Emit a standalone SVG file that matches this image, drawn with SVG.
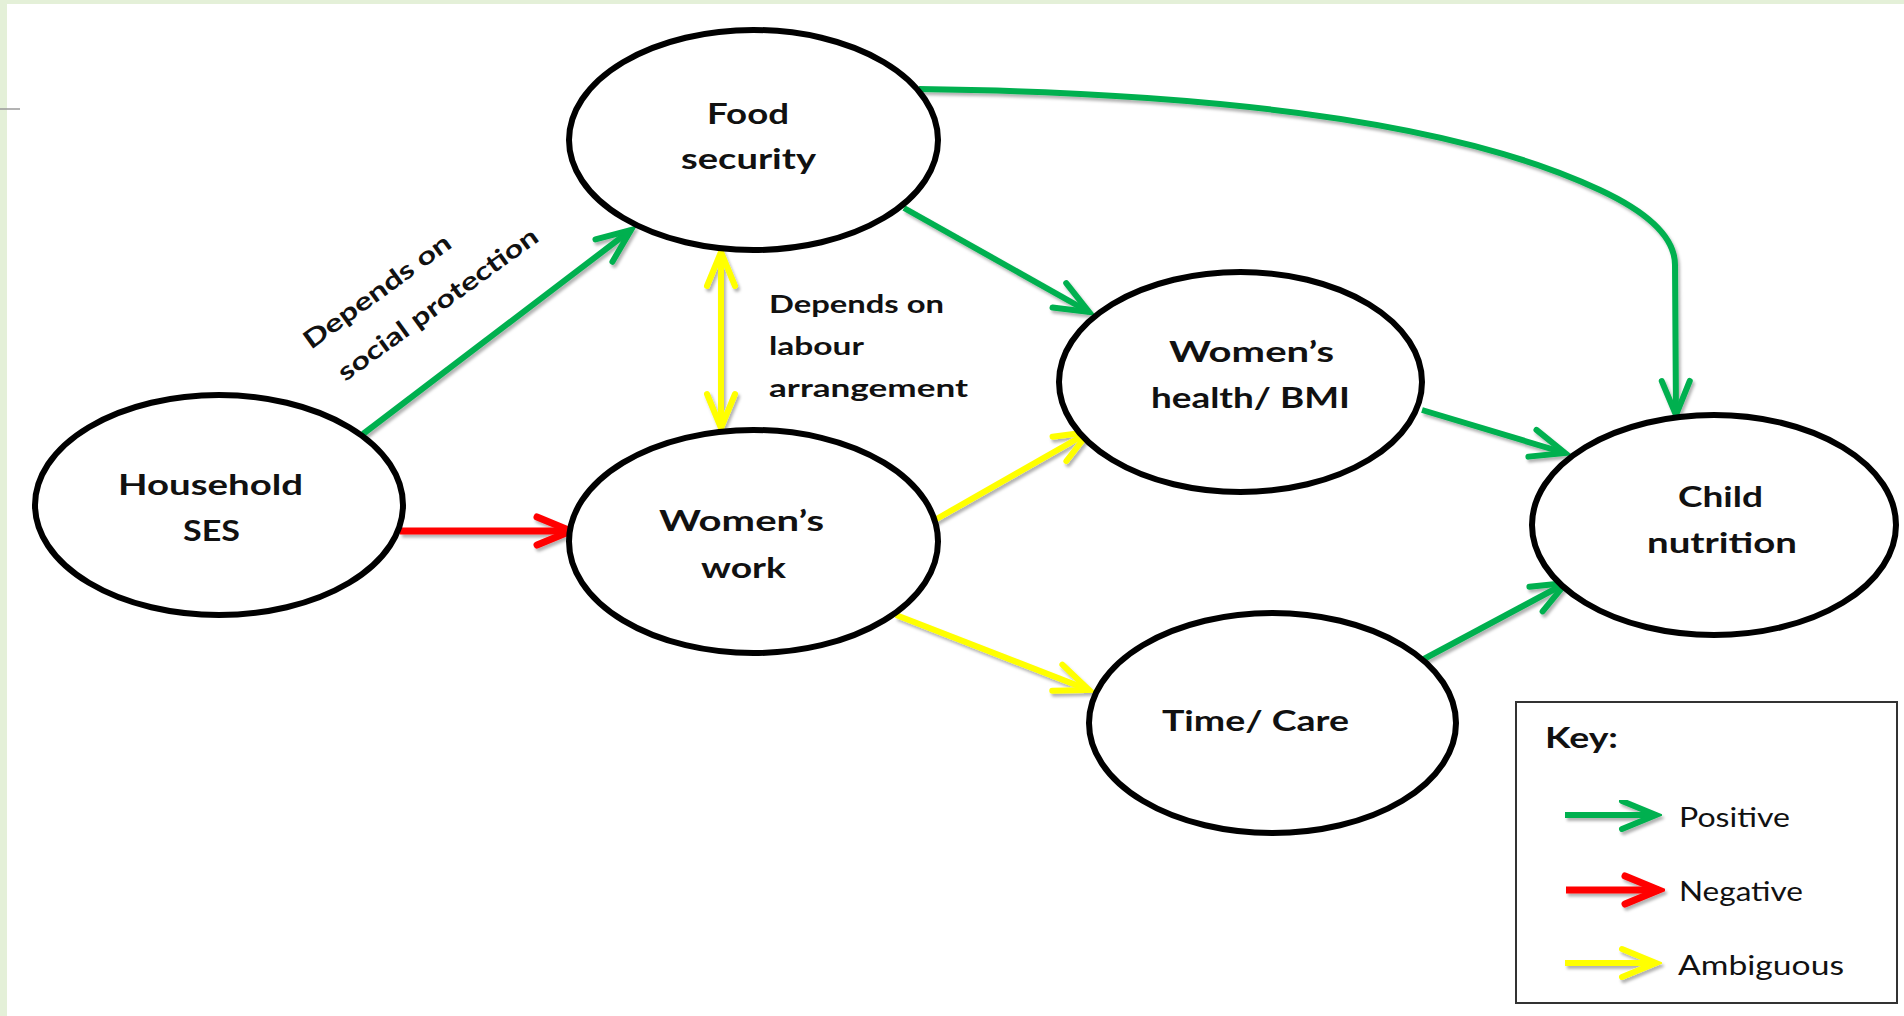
<svg xmlns="http://www.w3.org/2000/svg" width="1904" height="1016" viewBox="0 0 1904 1016">
<defs>
<style>
.node{fill:#fff;stroke:#000;stroke-width:6}
.t{font-family:Lato,"Liberation Sans",Arial,sans-serif;font-weight:bold;font-size:29px;fill:#111;text-anchor:middle}
.lbl{font-family:Lato,"Liberation Sans",Arial,sans-serif;font-weight:bold;font-size:25px;fill:#111}
.leg{font-family:Lato,"Liberation Sans",Arial,sans-serif;font-size:26px;fill:#111}
.c{fill:none;stroke-width:6;stroke-linecap:butt}
.g{stroke:#00b050}
.r{stroke:#ff0000;stroke-width:7}
.y{stroke:#ffff00}
</style>
<filter id="sh" x="-10%" y="-10%" width="130%" height="130%">
<feDropShadow dx="2" dy="3" stdDeviation="1.6" flood-color="#000" flood-opacity="0.3"/>
</filter>
<marker id="ag" markerUnits="userSpaceOnUse" viewBox="-42 -22 48 44" refX="0" refY="0" markerWidth="48" markerHeight="44" orient="auto">
<path d="M-34,-14 L0,0 L-34,14" fill="none" stroke="#00b050" stroke-width="6" stroke-linecap="round"/>
</marker>
<marker id="ar" markerUnits="userSpaceOnUse" viewBox="-42 -22 48 44" refX="0" refY="0" markerWidth="48" markerHeight="44" orient="auto">
<path d="M-34,-14 L0,0 L-34,14" fill="none" stroke="#ff0000" stroke-width="7" stroke-linecap="round"/>
</marker>
<marker id="ay" markerUnits="userSpaceOnUse" viewBox="-42 -22 48 44" refX="0" refY="0" markerWidth="48" markerHeight="44" orient="auto-start-reverse">
<path d="M-34,-14 L0,0 L-34,14" fill="none" stroke="#ffff00" stroke-width="6" stroke-linecap="round"/>
</marker>
</defs>
<rect x="0" y="0" width="1904" height="1016" fill="#e4f0d8"/>
<rect x="7" y="4" width="1897" height="1012" fill="#fff"/>
<line x1="0" y1="109" x2="20" y2="109" stroke="#9a9a9a" stroke-width="1.5"/>

<g id="connectors" filter="url(#sh)">
<line class="c g" x1="363" y1="434" x2="631" y2="230" marker-end="url(#ag)"/>
<line class="c r" x1="400" y1="531" x2="571" y2="531" marker-end="url(#ar)"/>
<line class="c y" x1="721" y1="252" x2="721" y2="428" marker-start="url(#ay)" marker-end="url(#ay)"/>
<line class="c g" x1="904" y1="208" x2="1089" y2="312" marker-end="url(#ag)"/>
<path class="c g" d="M919,89 Q1400,95 1600,190 Q1675,225 1675,265 L1676,415" marker-end="url(#ag)"/>
<line class="c y" x1="933" y1="521" x2="1089" y2="432" marker-end="url(#ay)"/>
<line class="c y" x1="896" y1="615" x2="1089" y2="690" marker-end="url(#ay)"/>
<line class="c g" x1="1422" y1="410" x2="1565" y2="453" marker-end="url(#ag)"/>
<line class="c g" x1="1422" y1="660" x2="1566" y2="583" marker-end="url(#ag)"/>
</g>

<g id="label-social" transform="translate(311,350) rotate(-36)">
<text class="lbl" x="0" y="0" textLength="176" lengthAdjust="spacingAndGlyphs">Depends on</text>
<text class="lbl" x="9" y="46" textLength="241" lengthAdjust="spacingAndGlyphs">social protection</text>
</g>
<g id="label-labour">
<text class="lbl" x="769" y="313" textLength="175" lengthAdjust="spacingAndGlyphs">Depends on</text>
<text class="lbl" x="769" y="355" textLength="95" lengthAdjust="spacingAndGlyphs">labour</text>
<text class="lbl" x="769" y="397" textLength="199" lengthAdjust="spacingAndGlyphs">arrangement</text>
</g>

<g id="node-household">
<ellipse class="node" cx="219" cy="505" rx="184" ry="110"/>
<text class="t" x="210.5" y="495" textLength="185" lengthAdjust="spacingAndGlyphs">Household</text>
<text class="t" x="211.5" y="541" textLength="57" lengthAdjust="spacingAndGlyphs">SES</text>
</g>
<g id="node-food">
<ellipse class="node" cx="753.5" cy="140" rx="184.5" ry="110"/>
<text class="t" x="748" y="124" textLength="82" lengthAdjust="spacingAndGlyphs">Food</text>
<text class="t" x="748.5" y="169" textLength="135" lengthAdjust="spacingAndGlyphs">security</text>
</g>
<g id="node-work">
<ellipse class="node" cx="753.5" cy="541.5" rx="184.5" ry="111.5"/>
<text class="t" x="741.5" y="531" textLength="165" lengthAdjust="spacingAndGlyphs">Women’s</text>
<text class="t" x="743.5" y="578" textLength="85" lengthAdjust="spacingAndGlyphs">work</text>
</g>
<g id="node-health">
<ellipse class="node" cx="1240.5" cy="382" rx="181.5" ry="110"/>
<text class="t" x="1251.5" y="362" textLength="165" lengthAdjust="spacingAndGlyphs">Women’s</text>
<text class="t" x="1250.5" y="408" textLength="199" lengthAdjust="spacingAndGlyphs">health/ BMI</text>
</g>
<g id="node-time">
<ellipse class="node" cx="1272.5" cy="723" rx="183.5" ry="110"/>
<text class="t" x="1255.5" y="731" textLength="187" lengthAdjust="spacingAndGlyphs">Time/ Care</text>
</g>
<g id="node-child">
<ellipse class="node" cx="1714" cy="525" rx="182" ry="110"/>
<text class="t" x="1720.5" y="507" textLength="85" lengthAdjust="spacingAndGlyphs">Child</text>
<text class="t" x="1722" y="553" textLength="150" lengthAdjust="spacingAndGlyphs">nutrition</text>
</g>

<g id="key">
<rect x="1516" y="702" width="381" height="301" fill="#fff" stroke="#333" stroke-width="2"/>
<text class="lbl" x="1545" y="748" style="font-size:29px" textLength="73" lengthAdjust="spacingAndGlyphs">Key:</text>
<g filter="url(#sh)">
<line class="c g" x1="1565" y1="815" x2="1656" y2="815" marker-end="url(#ag)"/>
<line class="c r" x1="1566" y1="890" x2="1659" y2="890" marker-end="url(#ar)"/>
<line class="c y" x1="1565" y1="963" x2="1656" y2="963" marker-end="url(#ay)"/>
</g>
<text class="leg" x="1679" y="827" textLength="111" lengthAdjust="spacingAndGlyphs">Positive</text>
<text class="leg" x="1679" y="901" textLength="124" lengthAdjust="spacingAndGlyphs">Negative</text>
<text class="leg" x="1678" y="975" textLength="166" lengthAdjust="spacingAndGlyphs">Ambiguous</text>
</g>
</svg>
